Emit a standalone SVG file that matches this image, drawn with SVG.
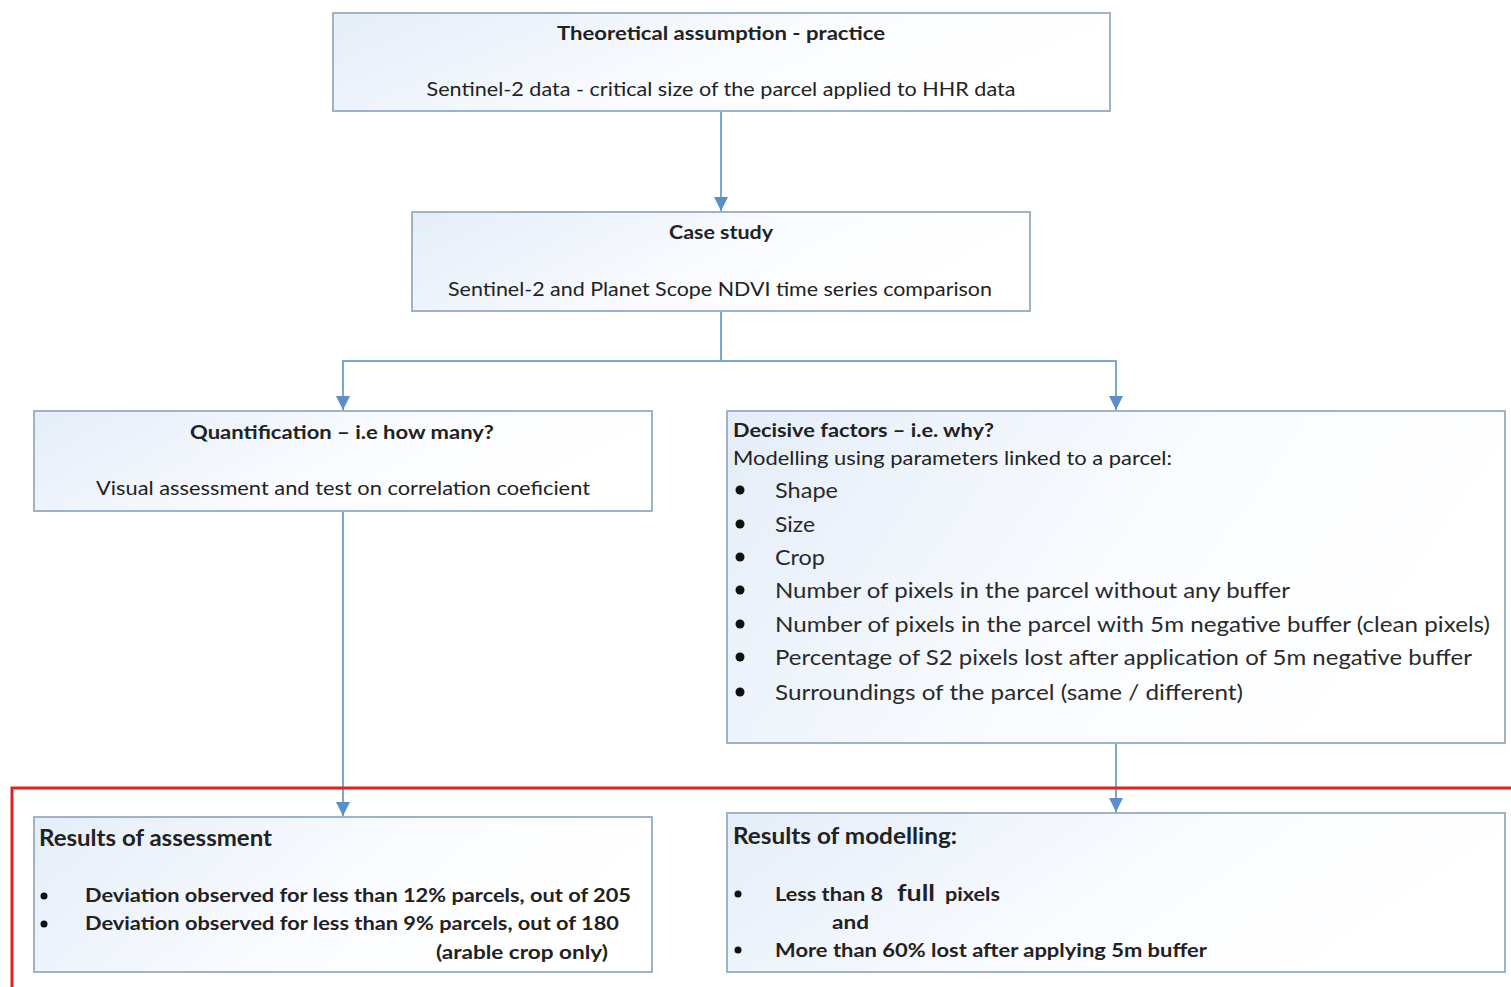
<svg xmlns="http://www.w3.org/2000/svg" width="1511" height="987" viewBox="0 0 1511 987">
<style>
.box{fill:url(#g);stroke:#9fb2c6;stroke-width:2}
.t{font-family:Lato,"Liberation Sans",sans-serif;fill:#222;font-size:19px}
.b{font-weight:bold}
.c{text-anchor:middle}
.li{font-size:22px;fill:#2a2a2a}
.conn{fill:none;stroke:#7ba7d7;stroke-width:2}
.dot{fill:#111}
</style>
<defs>
<linearGradient id="g" x1="0" y1="0" x2="1" y2="0.3">
<stop offset="0" stop-color="#e4edf8"/>
<stop offset="0.6" stop-color="#fafcff"/>
<stop offset="1" stop-color="#ffffff"/>
</linearGradient>
<marker id="ah" viewBox="0 0 10 10" refX="10" refY="5" markerWidth="14" markerHeight="14" markerUnits="userSpaceOnUse" orient="auto">
<path d="M0,0 L10,5 L0,10 z" fill="#5a8fca"/>
</marker>
</defs>
<rect width="1511" height="987" fill="#fff"/>
<g id="connectors">
<path class="conn" d="M721,111 V211" marker-end="url(#ah)"/>
<path class="conn" d="M721,311 V361 H343 V410" marker-end="url(#ah)"/>
<path class="conn" d="M721,361 H1116 V410" marker-end="url(#ah)"/>
<path class="conn" d="M343,511 V816" marker-end="url(#ah)"/>
<path class="conn" d="M1116,743 V812" marker-end="url(#ah)"/>
</g>
<rect id="frame" x="12" y="788" width="1510" height="210" fill="none" stroke="#e0201e" stroke-width="3"/>
<g id="n1">
<rect class="box" x="333" y="13" width="777" height="98"/>
<text class="t b c" x="721" y="40" textLength="328" lengthAdjust="spacingAndGlyphs">Theoretical assumption  - practice</text>
<text class="t c" x="721" y="96" textLength="589" lengthAdjust="spacingAndGlyphs">Sentinel-2 data - critical size of the parcel applied to HHR data</text>
</g>
<g id="n2">
<rect class="box" x="412" y="212" width="618" height="99"/>
<text class="t b c" x="721" y="239" textLength="104" lengthAdjust="spacingAndGlyphs">Case study</text>
<text class="t c" x="720" y="296" textLength="544" lengthAdjust="spacingAndGlyphs">Sentinel-2 and Planet Scope NDVI time series comparison</text>
</g>
<g id="n3">
<rect class="box" x="34" y="411" width="618" height="100"/>
<text class="t b c" x="342" y="439" textLength="304" lengthAdjust="spacingAndGlyphs">Quantification – i.e how many?</text>
<text class="t c" x="343" y="495" textLength="494" lengthAdjust="spacingAndGlyphs">Visual assessment and test on correlation coeficient</text>
</g>
<g id="n4">
<rect class="box" x="727" y="411" width="778" height="332"/>
<text class="t b" x="733" y="437" textLength="261" lengthAdjust="spacingAndGlyphs">Decisive factors – i.e. why?</text>
<text class="t" x="733" y="465" textLength="439" lengthAdjust="spacingAndGlyphs">Modelling using parameters linked to a parcel:</text>
<circle class="dot" cx="740" cy="490" r="4.5"/>
<circle class="dot" cx="740" cy="524" r="4.5"/>
<circle class="dot" cx="740" cy="557" r="4.5"/>
<circle class="dot" cx="740" cy="590" r="4.5"/>
<circle class="dot" cx="740" cy="624" r="4.5"/>
<circle class="dot" cx="740" cy="657" r="4.5"/>
<circle class="dot" cx="740" cy="692" r="4.5"/>
<text class="t li" x="775" y="498" textLength="63" lengthAdjust="spacingAndGlyphs">Shape</text>
<text class="t li" x="775" y="532" textLength="40" lengthAdjust="spacingAndGlyphs">Size</text>
<text class="t li" x="775" y="565" textLength="50" lengthAdjust="spacingAndGlyphs">Crop</text>
<text class="t li" x="775" y="598" textLength="515" lengthAdjust="spacingAndGlyphs">Number of pixels in the parcel without any buffer</text>
<text class="t li" x="775" y="632" textLength="715" lengthAdjust="spacingAndGlyphs">Number of pixels in the parcel with 5m negative buffer (clean pixels)</text>
<text class="t li" x="775" y="665" textLength="697" lengthAdjust="spacingAndGlyphs">Percentage of S2 pixels lost after application of 5m negative buffer</text>
<text class="t li" x="775" y="700" textLength="468" lengthAdjust="spacingAndGlyphs">Surroundings of the parcel (same / different)</text>
</g>
<g id="n5">
<rect class="box" x="34" y="817" width="618" height="155"/>
<text class="t b" x="39" y="846" style="font-size:22px" textLength="233" lengthAdjust="spacingAndGlyphs">Results of assessment</text>
<circle class="dot" cx="44" cy="896" r="3.5"/>
<circle class="dot" cx="44" cy="924" r="3.5"/>
<text class="t b" x="85" y="902" textLength="546" lengthAdjust="spacingAndGlyphs">Deviation observed for less than 12% parcels, out of 205</text>
<text class="t b" x="85" y="930" textLength="534" lengthAdjust="spacingAndGlyphs">Deviation observed for less than 9% parcels, out of 180</text>
<text class="t b" x="436" y="959" textLength="172" lengthAdjust="spacingAndGlyphs">(arable crop only)</text>
</g>
<g id="n6">
<rect class="box" x="727" y="813" width="778" height="159"/>
<text class="t b" x="733" y="844" style="font-size:22px" textLength="224" lengthAdjust="spacingAndGlyphs">Results of modelling:</text>
<circle class="dot" cx="738" cy="894" r="3.5"/>
<circle class="dot" cx="738" cy="950" r="3.5"/>
<text class="t b" x="775" y="901" textLength="108" lengthAdjust="spacingAndGlyphs">Less than 8</text>
<text class="t b" x="897" y="901" style="font-size:22px" textLength="38" lengthAdjust="spacingAndGlyphs">full</text>
<text class="t b" x="945" y="901" textLength="55" lengthAdjust="spacingAndGlyphs">pixels</text>
<text class="t b" x="832" y="929" textLength="37" lengthAdjust="spacingAndGlyphs">and</text>
<text class="t b" x="775" y="957" textLength="432" lengthAdjust="spacingAndGlyphs">More than 60% lost after applying 5m buffer</text>
</g>
</svg>
